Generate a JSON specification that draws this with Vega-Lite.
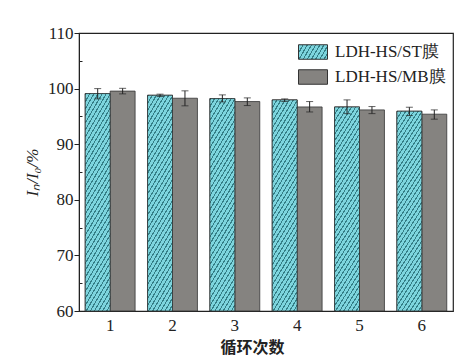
{
  "$schema": "https://vega.github.io/schema/vega-lite/v6.json",
  "width": 374,
  "height": 278,
  "autosize": "none",
  "padding": {"left": 79, "top": 33, "right": 21, "bottom": 46},
  "background": "white",
  "config": {
    "view": {"stroke": "#222", "strokeWidth": 1.2},
    "axis": {"labelFont": "Liberation Serif", "titleFont": "Liberation Serif", "labelColor": "#222", "titleColor": "#222", "domainColor": "#222", "tickColor": "#222", "grid": false}
  },
  "resolve": {"axis": {"y": "independent"}},
  "data": {
    "values": [
      {"cycle": "1", "series": "LDH-HS/ST膜", "value": 99.1, "lo": 98.15, "hi": 100.0},
      {"cycle": "1", "series": "LDH-HS/MB膜", "value": 99.55, "lo": 99.05, "hi": 100.05},
      {"cycle": "2", "series": "LDH-HS/ST膜", "value": 98.8, "lo": 98.57, "hi": 99.0},
      {"cycle": "2", "series": "LDH-HS/MB膜", "value": 98.27, "lo": 96.9, "hi": 99.6},
      {"cycle": "3", "series": "LDH-HS/ST膜", "value": 98.2, "lo": 97.6, "hi": 98.87},
      {"cycle": "3", "series": "LDH-HS/MB膜", "value": 97.67, "lo": 96.95, "hi": 98.33},
      {"cycle": "4", "series": "LDH-HS/ST膜", "value": 97.97, "lo": 97.67, "hi": 98.15},
      {"cycle": "4", "series": "LDH-HS/MB膜", "value": 96.7, "lo": 95.8, "hi": 97.67},
      {"cycle": "5", "series": "LDH-HS/ST膜", "value": 96.7, "lo": 95.5, "hi": 97.97},
      {"cycle": "5", "series": "LDH-HS/MB膜", "value": 96.17, "lo": 95.5, "hi": 96.77},
      {"cycle": "6", "series": "LDH-HS/ST膜", "value": 95.93, "lo": 95.15, "hi": 96.65},
      {"cycle": "6", "series": "LDH-HS/MB膜", "value": 95.4, "lo": 94.5, "hi": 96.17}
    ]
  },
  "encoding": {
    "x": {
      "field": "cycle", "type": "nominal",
      "scale": {"paddingInner": 0.2, "paddingOuter": 0.1},
      "axis": {"title": "循环次数", "labelAngle": 0, "labelFontSize": 17, "labelPadding": 6, "ticks": false, "domain": false, "titleFont": "Noto Sans CJK SC", "titleFontSize": 16, "titleFontWeight": "bold", "titlePadding": 6, "titleX": 173}
    },
    "xOffset": {"field": "series", "type": "nominal", "scale": {"domain": ["LDH-HS/ST膜", "LDH-HS/MB膜"]}}
  },
  "layer": [
    {
      "mark": {"type": "bar", "stroke": "#333", "strokeWidth": 0.8},
      "encoding": {
        "y": {"field": "value", "type": "quantitative", "scale": {"domain": [60, 110], "nice": false, "zero": false},
          "axis": {"orient": "left", "values": [60, 70, 80, 90, 100, 110], "title": "Iₙ/I₀/%", "titleFontStyle": "italic", "titleFontWeight": "normal", "titleFontSize": 17, "titlePadding": 6, "labelFontSize": 17, "tickSize": 5, "labelPadding": 1}},
        "y2": {"datum": 60},
        "fill": {
          "field": "series", "type": "nominal",
          "scale": {"domain": ["LDH-HS/ST膜", "LDH-HS/MB膜"], "range": [
            {"expr": "{gradient: 'linear', x1: 0, y1: 0, x2: 1.19, y2: 0.345, stops: [{offset: 0, color: '#357f87'}, {offset: 0.0333, color: '#357f87'}, {offset: 0.0333, color: '#7dd5de'}, {offset: 0.1111, color: '#7dd5de'}, {offset: 0.1111, color: '#357f87'}, {offset: 0.1444, color: '#357f87'}, {offset: 0.1444, color: '#7dd5de'}, {offset: 0.2222, color: '#7dd5de'}, {offset: 0.2222, color: '#357f87'}, {offset: 0.2556, color: '#357f87'}, {offset: 0.2556, color: '#7dd5de'}, {offset: 0.3333, color: '#7dd5de'}, {offset: 0.3333, color: '#357f87'}, {offset: 0.3667, color: '#357f87'}, {offset: 0.3667, color: '#7dd5de'}, {offset: 0.4444, color: '#7dd5de'}, {offset: 0.4444, color: '#357f87'}, {offset: 0.4778, color: '#357f87'}, {offset: 0.4778, color: '#7dd5de'}, {offset: 0.5556, color: '#7dd5de'}, {offset: 0.5556, color: '#357f87'}, {offset: 0.5889, color: '#357f87'}, {offset: 0.5889, color: '#7dd5de'}, {offset: 0.6667, color: '#7dd5de'}, {offset: 0.6667, color: '#357f87'}, {offset: 0.7, color: '#357f87'}, {offset: 0.7, color: '#7dd5de'}, {offset: 0.7778, color: '#7dd5de'}, {offset: 0.7778, color: '#357f87'}, {offset: 0.8111, color: '#357f87'}, {offset: 0.8111, color: '#7dd5de'}, {offset: 0.8889, color: '#7dd5de'}, {offset: 0.8889, color: '#357f87'}, {offset: 0.9222, color: '#357f87'}, {offset: 0.9222, color: '#7dd5de'}, {offset: 1, color: '#7dd5de'}]}"},
            "#858380"
          ]},
          "legend": {
            "title": null, "orient": "none", "legendX": 219, "legendY": 4,
            "labelFont": "Liberation Serif", "labelFontSize": 17, "labelColor": "#222", "labelOffset": 7,
            "symbolType": "M-1,-0.5H1V0.5H-1Z", "symbolSize": 841, "symbolStrokeColor": "#333", "symbolStrokeWidth": 1, "rowPadding": -3
          }
        }
      }
    },
    {
      "transform": [{"filter": "datum.series === 'LDH-HS/ST膜'"}],
      "mark": {"type": "bar", "stroke": "#333", "strokeWidth": 0.8,
        "fill": {"gradient": "linear", "x1": 0, "y1": 0, "x2": 0.226, "y2": 1.152, "stops": [
          {"offset": 0, "color": "#357f87"}, {"offset": 0.0081, "color": "#357f87"}, {"offset": 0.0081, "color": "#7dd5de"}, {"offset": 0.027, "color": "#7dd5de"},
          {"offset": 0.027, "color": "#357f87"}, {"offset": 0.0351, "color": "#357f87"}, {"offset": 0.0351, "color": "#7dd5de"}, {"offset": 0.0541, "color": "#7dd5de"},
          {"offset": 0.0541, "color": "#357f87"}, {"offset": 0.0622, "color": "#357f87"}, {"offset": 0.0622, "color": "#7dd5de"}, {"offset": 0.0811, "color": "#7dd5de"},
          {"offset": 0.0811, "color": "#357f87"}, {"offset": 0.0892, "color": "#357f87"}, {"offset": 0.0892, "color": "#7dd5de"}, {"offset": 0.1081, "color": "#7dd5de"},
          {"offset": 0.1081, "color": "#357f87"}, {"offset": 0.1162, "color": "#357f87"}, {"offset": 0.1162, "color": "#7dd5de"}, {"offset": 0.1351, "color": "#7dd5de"},
          {"offset": 0.1351, "color": "#357f87"}, {"offset": 0.1432, "color": "#357f87"}, {"offset": 0.1432, "color": "#7dd5de"}, {"offset": 0.1622, "color": "#7dd5de"},
          {"offset": 0.1622, "color": "#357f87"}, {"offset": 0.1703, "color": "#357f87"}, {"offset": 0.1703, "color": "#7dd5de"}, {"offset": 0.1892, "color": "#7dd5de"},
          {"offset": 0.1892, "color": "#357f87"}, {"offset": 0.1973, "color": "#357f87"}, {"offset": 0.1973, "color": "#7dd5de"}, {"offset": 0.2162, "color": "#7dd5de"},
          {"offset": 0.2162, "color": "#357f87"}, {"offset": 0.2243, "color": "#357f87"}, {"offset": 0.2243, "color": "#7dd5de"}, {"offset": 0.2432, "color": "#7dd5de"},
          {"offset": 0.2432, "color": "#357f87"}, {"offset": 0.2514, "color": "#357f87"}, {"offset": 0.2514, "color": "#7dd5de"}, {"offset": 0.2703, "color": "#7dd5de"},
          {"offset": 0.2703, "color": "#357f87"}, {"offset": 0.2784, "color": "#357f87"}, {"offset": 0.2784, "color": "#7dd5de"}, {"offset": 0.2973, "color": "#7dd5de"},
          {"offset": 0.2973, "color": "#357f87"}, {"offset": 0.3054, "color": "#357f87"}, {"offset": 0.3054, "color": "#7dd5de"}, {"offset": 0.3243, "color": "#7dd5de"},
          {"offset": 0.3243, "color": "#357f87"}, {"offset": 0.3324, "color": "#357f87"}, {"offset": 0.3324, "color": "#7dd5de"}, {"offset": 0.3514, "color": "#7dd5de"},
          {"offset": 0.3514, "color": "#357f87"}, {"offset": 0.3595, "color": "#357f87"}, {"offset": 0.3595, "color": "#7dd5de"}, {"offset": 0.3784, "color": "#7dd5de"},
          {"offset": 0.3784, "color": "#357f87"}, {"offset": 0.3865, "color": "#357f87"}, {"offset": 0.3865, "color": "#7dd5de"}, {"offset": 0.4054, "color": "#7dd5de"},
          {"offset": 0.4054, "color": "#357f87"}, {"offset": 0.4135, "color": "#357f87"}, {"offset": 0.4135, "color": "#7dd5de"}, {"offset": 0.4324, "color": "#7dd5de"},
          {"offset": 0.4324, "color": "#357f87"}, {"offset": 0.4405, "color": "#357f87"}, {"offset": 0.4405, "color": "#7dd5de"}, {"offset": 0.4595, "color": "#7dd5de"},
          {"offset": 0.4595, "color": "#357f87"}, {"offset": 0.4676, "color": "#357f87"}, {"offset": 0.4676, "color": "#7dd5de"}, {"offset": 0.4865, "color": "#7dd5de"},
          {"offset": 0.4865, "color": "#357f87"}, {"offset": 0.4946, "color": "#357f87"}, {"offset": 0.4946, "color": "#7dd5de"}, {"offset": 0.5135, "color": "#7dd5de"},
          {"offset": 0.5135, "color": "#357f87"}, {"offset": 0.5216, "color": "#357f87"}, {"offset": 0.5216, "color": "#7dd5de"}, {"offset": 0.5405, "color": "#7dd5de"},
          {"offset": 0.5405, "color": "#357f87"}, {"offset": 0.5486, "color": "#357f87"}, {"offset": 0.5486, "color": "#7dd5de"}, {"offset": 0.5676, "color": "#7dd5de"},
          {"offset": 0.5676, "color": "#357f87"}, {"offset": 0.5757, "color": "#357f87"}, {"offset": 0.5757, "color": "#7dd5de"}, {"offset": 0.5946, "color": "#7dd5de"},
          {"offset": 0.5946, "color": "#357f87"}, {"offset": 0.6027, "color": "#357f87"}, {"offset": 0.6027, "color": "#7dd5de"}, {"offset": 0.6216, "color": "#7dd5de"},
          {"offset": 0.6216, "color": "#357f87"}, {"offset": 0.6297, "color": "#357f87"}, {"offset": 0.6297, "color": "#7dd5de"}, {"offset": 0.6486, "color": "#7dd5de"},
          {"offset": 0.6486, "color": "#357f87"}, {"offset": 0.6568, "color": "#357f87"}, {"offset": 0.6568, "color": "#7dd5de"}, {"offset": 0.6757, "color": "#7dd5de"},
          {"offset": 0.6757, "color": "#357f87"}, {"offset": 0.6838, "color": "#357f87"}, {"offset": 0.6838, "color": "#7dd5de"}, {"offset": 0.7027, "color": "#7dd5de"},
          {"offset": 0.7027, "color": "#357f87"}, {"offset": 0.7108, "color": "#357f87"}, {"offset": 0.7108, "color": "#7dd5de"}, {"offset": 0.7297, "color": "#7dd5de"},
          {"offset": 0.7297, "color": "#357f87"}, {"offset": 0.7378, "color": "#357f87"}, {"offset": 0.7378, "color": "#7dd5de"}, {"offset": 0.7568, "color": "#7dd5de"},
          {"offset": 0.7568, "color": "#357f87"}, {"offset": 0.7649, "color": "#357f87"}, {"offset": 0.7649, "color": "#7dd5de"}, {"offset": 0.7838, "color": "#7dd5de"},
          {"offset": 0.7838, "color": "#357f87"}, {"offset": 0.7919, "color": "#357f87"}, {"offset": 0.7919, "color": "#7dd5de"}, {"offset": 0.8108, "color": "#7dd5de"},
          {"offset": 0.8108, "color": "#357f87"}, {"offset": 0.8189, "color": "#357f87"}, {"offset": 0.8189, "color": "#7dd5de"}, {"offset": 0.8378, "color": "#7dd5de"},
          {"offset": 0.8378, "color": "#357f87"}, {"offset": 0.8459, "color": "#357f87"}, {"offset": 0.8459, "color": "#7dd5de"}, {"offset": 0.8649, "color": "#7dd5de"},
          {"offset": 0.8649, "color": "#357f87"}, {"offset": 0.873, "color": "#357f87"}, {"offset": 0.873, "color": "#7dd5de"}, {"offset": 0.8919, "color": "#7dd5de"},
          {"offset": 0.8919, "color": "#357f87"}, {"offset": 0.9, "color": "#357f87"}, {"offset": 0.9, "color": "#7dd5de"}, {"offset": 0.9189, "color": "#7dd5de"},
          {"offset": 0.9189, "color": "#357f87"}, {"offset": 0.927, "color": "#357f87"}, {"offset": 0.927, "color": "#7dd5de"}, {"offset": 0.9459, "color": "#7dd5de"},
          {"offset": 0.9459, "color": "#357f87"}, {"offset": 0.9541, "color": "#357f87"}, {"offset": 0.9541, "color": "#7dd5de"}, {"offset": 0.973, "color": "#7dd5de"},
          {"offset": 0.973, "color": "#357f87"}, {"offset": 0.9811, "color": "#357f87"}, {"offset": 0.9811, "color": "#7dd5de"}, {"offset": 1, "color": "#7dd5de"}
        ]}
      },
      "encoding": {
        "y": {"field": "value", "type": "quantitative", "axis": null},
        "y2": {"datum": 60}
      }
    },
    {
      "mark": {"type": "rule", "color": "#222", "strokeWidth": 1},
      "encoding": {
        "y": {"field": "lo", "type": "quantitative",
          "axis": {"orient": "left", "values": [65, 75, 85, 95, 105], "tickSize": -3, "labels": false, "domain": false, "title": null, "offset": 0}},
        "y2": {"field": "hi"}
      }
    },
    {
      "mark": {"type": "tick", "color": "#222", "size": 7, "thickness": 1},
      "encoding": {"y": {"field": "lo", "type": "quantitative", "axis": null}}
    },
    {
      "mark": {"type": "tick", "color": "#222", "size": 7, "thickness": 1},
      "encoding": {"y": {"field": "hi", "type": "quantitative", "axis": null}}
    }
  ]
}
